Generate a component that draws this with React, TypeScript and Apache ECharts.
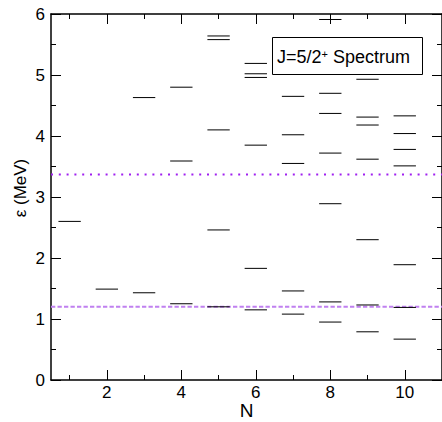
import React, { useEffect, useRef } from 'react';
import * as echarts from 'echarts';

// Energy levels (MeV) for each N
const nValues = [1, 2, 3, 4, 5, 6, 7, 8, 9, 10];
const levels: number[][] = [
  [2.6],
  [1.49],
  [1.43, 4.63],
  [1.25, 3.59, 4.8],
  [1.2, 2.46, 4.1, 5.58, 5.64],
  [1.15, 1.83, 3.85, 4.96, 5.02, 5.19],
  [1.08, 1.46, 3.55, 4.02, 4.65],
  [0.95, 1.28, 2.89, 3.72, 4.37, 4.7, 5.91],
  [0.79, 1.23, 2.3, 3.62, 4.18, 4.31, 4.93],
  [0.67, 1.19, 1.89, 3.51, 3.78, 4.04, 4.33],
];
const dottedLevel = 3.37;
const dashedLevel = 1.2;
const xMajorTicks = [2, 4, 6, 8, 10];
const xMinorTicks = [1, 3, 5, 7, 9];
const xRange = [0.5, 11];
const yRange = [0, 6];
const legendText = '{a|J=5/2}{s|+}{a| Spectrum}';
const yTitle = 'ε (MeV)';
const xTitle = 'N';

const font = 'Liberation Sans, Arial, Helvetica, sans-serif';
const HALF = 0.3;

export default function App() {
  const ref = useRef<HTMLDivElement>(null);
  useEffect(() => {
    const chart = echarts.init(ref.current!, null, { renderer: 'svg' });
    const levelData: number[][] = [];
    nValues.forEach((n, i) => levels[i].forEach((e) => levelData.push([n, e])));

    const gridRect = { left: 51, right: 0, top: 14, bottom: 42, outerBoundsMode: 'none' };
    const baseX = {
      type: 'value',
      min: xRange[0],
      max: xRange[1],
      splitLine: { show: false },
    };
    const option: any = {
      animation: false,
      grid: [{ ...gridRect }, { ...gridRect }],
      xAxis: [
        {
          ...baseX,
          gridIndex: 0,
          position: 'bottom',
          axisLine: { show: true, onZero: false, lineStyle: { color: '#000', width: 1.5 } },
          axisTick: { show: true, inside: true, length: 10, customValues: xMajorTicks, lineStyle: { color: '#000', width: 1 } },
          axisLabel: { show: true, customValues: xMajorTicks, margin: 4, color: '#000', fontSize: 17, fontFamily: font },
          name: xTitle,
          nameLocation: 'middle',
          nameGap: 21,
          nameMoveOverlap: false,
          nameTextStyle: { fontSize: 19, lineHeight: 19, color: '#000', fontFamily: font },
        },
        {
          ...baseX,
          gridIndex: 0,
          position: 'top',
          axisLine: { show: true, onZero: false, lineStyle: { color: '#000', width: 1.5 } },
          axisTick: { show: true, inside: true, length: 10, customValues: xMajorTicks, lineStyle: { color: '#000', width: 1 } },
          axisLabel: { show: false },
        },
        {
          ...baseX,
          gridIndex: 1,
          position: 'bottom',
          axisLine: { show: false, onZero: false },
          axisTick: { show: true, inside: true, length: 5, customValues: xMinorTicks, lineStyle: { color: '#000', width: 1 } },
          axisLabel: { show: false },
        },
        {
          ...baseX,
          gridIndex: 1,
          position: 'top',
          axisLine: { show: false, onZero: false },
          axisTick: { show: true, inside: true, length: 5, customValues: xMinorTicks, lineStyle: { color: '#000', width: 1 } },
          axisLabel: { show: false },
        },
      ],
      yAxis: [
        {
          type: 'value',
          gridIndex: 0,
          position: 'left',
          min: yRange[0],
          max: yRange[1],
          interval: 1,
          axisLine: { show: true, onZero: false, lineStyle: { color: '#000', width: 1.5 } },
          axisTick: { show: true, inside: true, length: 10, lineStyle: { color: '#000', width: 1 } },
          minorTick: { show: true, splitNumber: 2, length: 5, lineStyle: { color: '#000', width: 1 } },
          axisLabel: { show: true, margin: 6, color: '#000', fontSize: 17, fontFamily: font },
          splitLine: { show: false },
        },
        {
          type: 'value',
          gridIndex: 0,
          position: 'right',
          min: yRange[0],
          max: yRange[1],
          interval: 1,
          axisLine: { show: true, onZero: false, lineStyle: { color: '#000', width: 1.5 } },
          axisTick: { show: true, inside: true, length: 10, lineStyle: { color: '#000', width: 1 } },
          minorTick: { show: true, splitNumber: 2, length: 5, lineStyle: { color: '#000', width: 1 } },
          axisLabel: { show: false },
          splitLine: { show: false },
        },
        {
          type: 'value',
          gridIndex: 1,
          min: yRange[0],
          max: yRange[1],
          show: false,
          splitLine: { show: false },
        },
      ],
      series: [
        {
          type: 'line',
          xAxisIndex: 0,
          yAxisIndex: 0,
          data: [[xRange[0], dottedLevel], [xRange[1], dottedLevel]],
          symbol: 'none',
          lineStyle: { color: '#a020f0', width: 2, type: [2, 5.8], cap: 'butt' },
          z: 2,
        },
        {
          type: 'line',
          xAxisIndex: 0,
          yAxisIndex: 0,
          data: [[xRange[0], dashedLevel], [xRange[1], dashedLevel]],
          symbol: 'none',
          lineStyle: { color: '#c080f0', width: 2, type: [4.3, 2.2], cap: 'butt' },
          z: 2,
        },
        {
          type: 'custom',
          xAxisIndex: 0,
          yAxisIndex: 0,
          data: levelData,
          z: 5,
          renderItem: (params: any, api: any) => {
            const n = api.value(0);
            const e = api.value(1);
            const p1 = api.coord([n - HALF, e]);
            const p2 = api.coord([n + HALF, e]);
            return {
              type: 'line',
              shape: { x1: p1[0], y1: p1[1], x2: p2[0], y2: p2[1] },
              style: { stroke: '#000', lineWidth: 1 },
            };
          },
        },
      ],
      graphic: [
        {
          type: 'rect',
          shape: { x: 272.5, y: 37.5, width: 150, height: 37 },
          style: { fill: '#fff', stroke: '#000', lineWidth: 1 },
          z: 100,
        },
        {
          type: 'text',
          x: 277,
          y: 57,
          z: 101,
          style: {
            text: legendText,
            align: 'left',
            verticalAlign: 'middle',
            rich: {
              a: { fontSize: 18, fontFamily: font, fill: '#000' },
              s: { fontSize: 11, fontFamily: font, fill: '#000', verticalAlign: 'top' },
            },
          },
        },
        {
          type: 'text',
          x: 20,
          y: 188,
          rotation: Math.PI / 2,
          style: {
            text: yTitle,
            font: `17px ${font}`,
            fill: '#000',
            align: 'center',
            verticalAlign: 'middle',
          },
        },
      ],
    };
    chart.setOption(option);
    return () => chart.dispose();
  }, []);
  return <div ref={ref} style={{ position: 'absolute', left: 0, top: 0, width: 442, height: 422 }} />;
}
